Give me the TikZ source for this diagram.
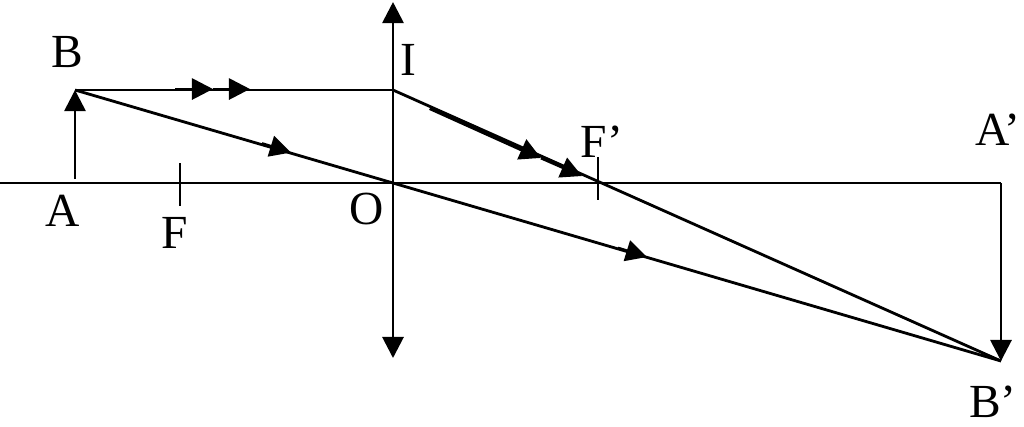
\documentclass[tikz,border=0pt]{standalone}
\usepackage{fontspec}
\setmainfont{Liberation Serif}
\usetikzlibrary{arrows.meta}
\tikzstyle{ptlabel} = [inner sep=0pt, font=\fontsize{13.5}{15}\selectfont]
\tikzstyle{ray} = [line width=0.8pt]
\tikzstyle{tick} = [line width=0.7pt]
\tikzstyle{headline} = [line width=0.8pt, -{Triangle[length=6pt, width=6pt]}]
\tikzstyle{midarrow} = [line width=0.8pt, -{Triangle[length=6pt, width=6pt]}]

\begin{document}
\begin{tikzpicture}[x=0.01cm, y=-0.01cm]
  \useasboundingbox (0,0) rectangle (1024,426);

  % points on the axis and on the lens
  \coordinate (axisL) at (0,183);
  \coordinate (O) at (393,183);
  \coordinate (A) at (75,179);
  \coordinate (B) at (75,90);
  \coordinate (I) at (393,90);
  \coordinate (lensT) at (393,2);
  \coordinate (lensB) at (393,358);
  \coordinate (Ap) at (1001,183);
  \coordinate (Bp) at (1001,361);
  \coordinate (Ftop) at (180,163);
  \coordinate (Fbot) at (180,206);
  \coordinate (Fptop) at (598,157);
  \coordinate (Fpbot) at (598,200);

  % labels
  \node[ptlabel] (lB) at (67,52) {B};
  \node[ptlabel] (lI) at (408,60) {I};
  \node[ptlabel] (lA) at (63,211) {A};
  \node[ptlabel] (lF) at (175,233) {F};
  \node[ptlabel] (lO) at (367,209) {O};
  \node[ptlabel] (lFp) at (602,142) {F’};
  \node[ptlabel] (lAp) at (998,130) {A’};
  \node[ptlabel] (lBp) at (993,402) {B’};

  % axis, lens, object and image
  \draw[ray] (axisL) -- (Ap);
  \draw[headline] (O) -- (lensT);
  \draw[headline] (O) -- (lensB);
  \draw[headline] (A) -- (B);
  \draw[headline] (Ap) -- (Bp);
  \draw[tick] (Ftop) -- (Fbot);
  \draw[tick] (Fptop) -- (Fpbot);

  % rays
  \draw[ray] (B) -- (I);
  \draw[ray] (I) -- (Bp);
  \draw[ray] (B) -- (O);
  \draw[ray] (O) -- (Bp);

  % arrows on the rays
  \coordinate (m1) at (175,89);
  \coordinate (m2) at (213,89);
  \coordinate (m3) at (250,89);
  \coordinate (m4) at (430,108);
  \coordinate (m5) at (541,158);
  \coordinate (m6) at (582,176);
  \coordinate (m7) at (262,143.5);
  \coordinate (m8) at (291,152.5);
  \coordinate (m9) at (618,248);
  \coordinate (m10) at (647,257);
  \draw[midarrow] (m1) -- (m2);
  \draw[midarrow] (m2) -- (m3);
  \draw[midarrow, line width=1.2pt] (m4) -- (m5);
  \draw[midarrow] (m5) -- (m6);
  \draw[midarrow] (m7) -- (m8);
  \draw[midarrow] (m9) -- (m10);
\end{tikzpicture}
\end{document}
